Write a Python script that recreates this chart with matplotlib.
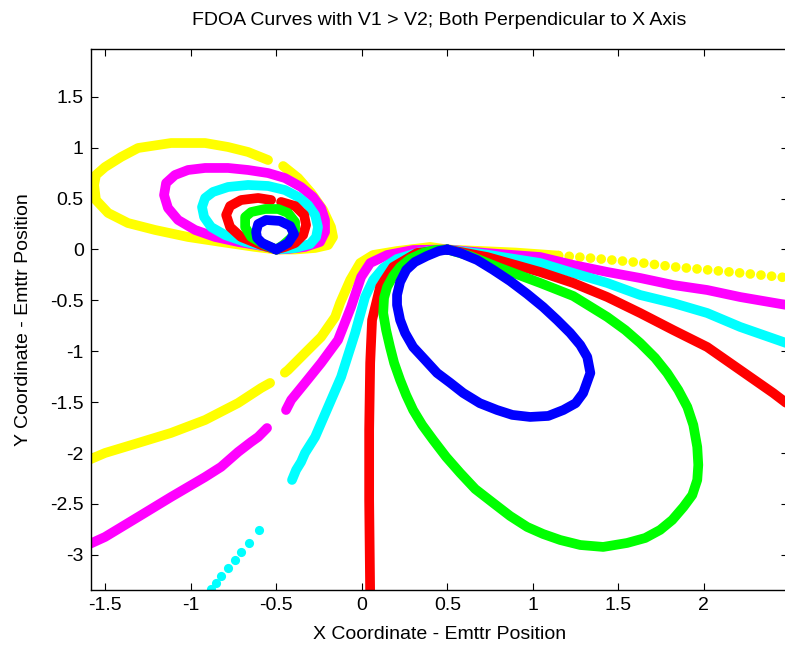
import matplotlib
matplotlib.use("Agg")
import matplotlib.pyplot as plt

# Curvas FDOA (coordenadas en unidades de los ejes)

# --- lazos alrededor del sensor 1 (-0.5, 0) ---
lazo_amarillo_a_x = [-0.50, -0.624, -0.823, -1.016, -1.209, -1.367, -1.483, -1.554, -1.565, -1.554, -1.501,
                     -1.407, -1.308, -1.115, -0.916, -0.782, -0.665, -0.548]
lazo_amarillo_a_y = [0.00, 0.025, 0.074, 0.123, 0.192, 0.260, 0.359, 0.486, 0.634, 0.732, 0.810,
                     0.909, 0.997, 1.046, 1.046, 1.007, 0.958, 0.879]
lazo_amarillo_b_x = [-0.460, -0.372, -0.296, -0.226, -0.180, -0.168, -0.197, -0.273, -0.390, -0.50]
lazo_amarillo_b_y = [0.820, 0.702, 0.555, 0.388, 0.221, 0.123, 0.044, 0.015, 0.00, 0.00]

lazo_magenta_x = [-0.50, -0.548, -0.723, -0.858, -0.975, -1.074, -1.133, -1.156, -1.144, -1.092, -1.016, -0.916,
                  -0.782, -0.665, -0.548, -0.449, -0.355, -0.285, -0.238, -0.215, -0.215, -0.244, -0.332, -0.431, -0.50]
lazo_magenta_y = [0.00, 0.025, 0.074, 0.123, 0.192, 0.290, 0.408, 0.535, 0.653, 0.732, 0.781, 0.801,
                  0.801, 0.781, 0.751, 0.702, 0.614, 0.516, 0.408, 0.290, 0.172, 0.074, 0.025, 0.005, 0.00]

lazo_cian_x = [-0.50, -0.548, -0.682, -0.799, -0.881, -0.922, -0.934, -0.916, -0.870, -0.782, -0.665, -0.548,
               -0.449, -0.372, -0.314, -0.273, -0.256, -0.267, -0.302, -0.390, -0.50]
lazo_cian_y = [0.00, 0.025, 0.074, 0.142, 0.221, 0.319, 0.417, 0.506, 0.565, 0.614, 0.634, 0.624,
               0.584, 0.516, 0.437, 0.339, 0.221, 0.123, 0.054, 0.015, 0.00]

lazo_rojo_a_x = [-0.50, -0.589, -0.706, -0.770, -0.793, -0.770, -0.706, -0.606, -0.530]
lazo_rojo_a_y = [0.00, 0.044, 0.123, 0.221, 0.339, 0.427, 0.486, 0.506, 0.486]
lazo_rojo_b_x = [-0.472, -0.390, -0.337, -0.326, -0.343, -0.390, -0.449, -0.50]
lazo_rojo_b_y = [0.467, 0.427, 0.339, 0.241, 0.142, 0.064, 0.025, 0.00]

lazo_verde_x = [-0.50, -0.565, -0.647, -0.682, -0.682, -0.647, -0.565, -0.489, -0.431, -0.390, -0.390, -0.413, -0.460, -0.50]
lazo_verde_y = [0.00, 0.044, 0.123, 0.221, 0.319, 0.368, 0.398, 0.398, 0.359, 0.270, 0.192, 0.113, 0.044, 0.00]

lazo_azul_x = [-0.50, -0.583, -0.612, -0.618, -0.606, -0.56, -0.478, -0.419, -0.396, -0.431, -0.50]
lazo_azul_y = [0.00, 0.064, 0.113, 0.172, 0.25, 0.29, 0.28, 0.231, 0.152, 0.064, 0.00]

# --- ramas que pasan por el sensor 2 (0.5, 0) ---
amarillo_der_x = [0.50, 0.63, 0.90, 1.15, 1.24, 1.44, 1.63, 1.82, 2.02, 2.21, 2.50]
amarillo_der_y = [0.00, -0.01, -0.03, -0.06, -0.07, -0.10, -0.13, -0.17, -0.20, -0.23, -0.28]
amarillo_izq_x = [0.50, 0.40, 0.206, 0.066, -0.010, -0.068, -0.127, -0.156, -0.238, -0.332, -0.431, -0.45]
amarillo_izq_y = [0.00, 0.025, -0.015, -0.054, -0.133, -0.300, -0.526, -0.663, -0.860, -1.017, -1.184, -1.21]
amarillo_bajo_x = [-0.536, -0.589, -0.723, -0.916, -1.115, -1.308, -1.501, -1.60]
amarillo_bajo_y = [-1.311, -1.361, -1.508, -1.675, -1.802, -1.901, -1.999, -2.07]

magenta_der_x = [0.50, 0.73, 1.043, 1.236, 1.435, 1.627, 1.820, 2.019, 2.212, 2.50]
magenta_der_y = [0.00, -0.035, -0.074, -0.152, -0.221, -0.280, -0.349, -0.398, -0.467, -0.55]
magenta_izq_x = [0.50, 0.300, 0.148, 0.049, -0.004, -0.063, -0.139, -0.238, -0.332, -0.413, -0.443]
magenta_izq_y = [0.00, -0.005, -0.054, -0.133, -0.270, -0.565, -0.889, -1.115, -1.311, -1.478, -1.577]
magenta_bajo_x = [-0.554, -0.606, -0.647, -0.723, -0.823, -0.916, -1.115, -1.308, -1.501, -1.60]
magenta_bajo_y = [-1.754, -1.842, -1.891, -1.989, -2.136, -2.235, -2.431, -2.628, -2.824, -2.90]

cian_der_x = [0.50, 0.73, 1.043, 1.236, 1.435, 1.627, 1.820, 2.019, 2.212, 2.50]
cian_der_y = [0.00, -0.05, -0.133, -0.231, -0.329, -0.447, -0.526, -0.624, -0.761, -0.93]
cian_izq_x = [0.50, 0.341, 0.206, 0.125, 0.066, 0.019, -0.039, -0.121, -0.197, -0.273, -0.332, -0.355, -0.384, -0.408]
cian_izq_y = [0.00, -0.025, -0.093, -0.182, -0.300, -0.467, -0.820, -1.252, -1.547, -1.842, -1.999, -2.087, -2.166, -2.264]
cian_puntos_x = [-0.600, -0.659, -0.706, -0.741, -0.782, -0.823, -0.852, -0.881]
cian_puntos_y = [-2.755, -2.883, -2.971, -3.050, -3.129, -3.207, -3.276, -3.335]

rojo_der_x = [0.50, 0.733, 1.043, 1.236, 1.435, 1.627, 1.820, 2.019, 2.212, 2.405, 2.505]
rojo_der_y = [0.00, -0.074, -0.221, -0.329, -0.467, -0.624, -0.791, -0.958, -1.184, -1.410, -1.538]
rojo_izq_x = [0.50, 0.323, 0.183, 0.107, 0.060, 0.049, 0.043, 0.043, 0.049]
rojo_izq_y = [0.00, -0.034, -0.172, -0.368, -0.693, -1.115, -1.773, -2.46, -3.40]

verde_x = [0.5, 0.633, 0.809, 1.043, 1.236, 1.435, 1.540, 1.627, 1.715, 1.785, 1.850, 1.903, 1.938, 1.961,
           1.967, 1.961, 1.932, 1.880, 1.815, 1.744, 1.657, 1.551, 1.411, 1.277, 1.160, 1.060, 0.967, 0.867,
           0.768, 0.663, 0.575, 0.493, 0.417, 0.353, 0.300, 0.259, 0.224, 0.189, 0.165, 0.142, 0.125, 0.130,
           0.148, 0.183, 0.224, 0.282, 0.358, 0.429, 0.5]
verde_y = [0.0, -0.064, -0.182, -0.329, -0.457, -0.663, -0.791, -0.918, -1.066, -1.213, -1.380, -1.547, -1.724, -1.940,
           -2.117, -2.264, -2.412, -2.530, -2.657, -2.755, -2.834, -2.883, -2.922, -2.903, -2.854, -2.795, -2.726, -2.618,
           -2.490, -2.353, -2.195, -2.038, -1.871, -1.724, -1.577, -1.429, -1.282, -1.115, -0.958, -0.791, -0.624, -0.476,
           -0.368, -0.260, -0.172, -0.093, -0.034, -0.005, 0.0]

azul_x = [0.50, 0.575, 0.674, 0.768, 0.867, 0.967, 1.06, 1.142, 1.218, 1.277, 1.318, 1.336, 1.294, 1.25, 1.178,
          1.09, 0.984, 0.88, 0.791, 0.69, 0.593, 0.517, 0.44, 0.37, 0.30, 0.253, 0.224, 0.206, 0.206, 0.224,
          0.26, 0.31, 0.38, 0.45, 0.50]
azul_y = [0.00, -0.034, -0.103, -0.20, -0.31, -0.437, -0.565, -0.693, -0.82, -0.938, -1.056, -1.213, -1.41, -1.51, -1.577,
          -1.635, -1.645, -1.625, -1.577, -1.51, -1.41, -1.31, -1.213, -1.085, -0.958, -0.82, -0.693, -0.545, -0.447, -0.319,
          -0.20, -0.123, -0.064, -0.015, 0.00]

ticks_x = [-1.5, -1, -0.5, 0, 0.5, 1, 1.5, 2]
ticks_y = [1.5, 1, 0.5, 0, -0.5, -1, -1.5, -2, -2.5, -3]

GROSOR = 7.0
PUNTO = 6.6


def trazo(ax, x, y, color, punteado=False):
    # linea gruesa con extremos redondos, como los puntos densos de MATLAB
    if punteado:
        ax.plot(x, y, color=color, lw=GROSOR, linestyle=(0, (0.001, 1.1)),
                dash_capstyle="round", solid_joinstyle="round")
    else:
        ax.plot(x, y, color=color, lw=GROSOR, solid_capstyle="round", solid_joinstyle="round")


def main():
    plt.rcParams["font.family"] = ["Liberation Sans", "DejaVu Sans"]
    fig = plt.figure(figsize=(7.85, 6.46), dpi=100)
    ax = fig.add_axes([0.1155, 0.0867, 0.888, 0.8375])

    # amarillo
    trazo(ax, lazo_amarillo_a_x, lazo_amarillo_a_y, "#ffff00")
    trazo(ax, lazo_amarillo_b_x, lazo_amarillo_b_y, "#ffff00")
    trazo(ax, amarillo_der_x[:4], amarillo_der_y[:4], "#ffff00")
    trazo(ax, amarillo_der_x[3:], amarillo_der_y[3:], "#ffff00", punteado=True)
    trazo(ax, amarillo_izq_x, amarillo_izq_y, "#ffff00")
    trazo(ax, amarillo_bajo_x, amarillo_bajo_y, "#ffff00")

    # magenta
    trazo(ax, lazo_magenta_x, lazo_magenta_y, "#ff00ff")
    trazo(ax, magenta_der_x, magenta_der_y, "#ff00ff")
    trazo(ax, magenta_izq_x, magenta_izq_y, "#ff00ff")
    trazo(ax, magenta_bajo_x, magenta_bajo_y, "#ff00ff")

    # cian
    trazo(ax, lazo_cian_x, lazo_cian_y, "#00ffff")
    trazo(ax, cian_der_x, cian_der_y, "#00ffff")
    trazo(ax, cian_izq_x, cian_izq_y, "#00ffff")
    ax.plot(cian_puntos_x, cian_puntos_y, "o", color="#00ffff", ms=PUNTO, mew=0)

    # rojo
    trazo(ax, lazo_rojo_a_x, lazo_rojo_a_y, "#ff0000")
    trazo(ax, lazo_rojo_b_x, lazo_rojo_b_y, "#ff0000")
    trazo(ax, rojo_der_x, rojo_der_y, "#ff0000")
    trazo(ax, rojo_izq_x, rojo_izq_y, "#ff0000")

    # verde
    trazo(ax, lazo_verde_x, lazo_verde_y, "#00ff00")
    trazo(ax, verde_x, verde_y, "#00ff00")

    # azul
    trazo(ax, lazo_azul_x, lazo_azul_y, "#0000ff")
    trazo(ax, azul_x, azul_y, "#0000ff")

    ax.set_xlim(-1.585, 2.49)
    ax.set_ylim(-3.345, 1.97)
    ax.set_xticks(ticks_x)
    ax.set_xticklabels(["-1.5", "-1", "-0.5", "0", "0.5", "1", "1.5", "2"])
    ax.set_yticks(ticks_y)
    ax.set_yticklabels(["1.5", "1", "0.5", "0", "-0.5", "-1", "-1.5", "-2", "-2.5", "-3"])
    ax.tick_params(direction="in", length=5, width=0.8, top=True, right=True,
                   labelsize=14, pad=5)
    for lado in ax.spines.values():
        lado.set_linewidth(1.0)

    ax.set_title("FDOA Curves with V1 > V2; Both Perpendicular to X Axis", fontsize=14, pad=17)
    ax.set_xlabel("X Coordinate - Emttr Position", fontsize=14, labelpad=9)
    ax.set_ylabel("Y Coordinate - Emttr Position", fontsize=14, labelpad=13)

    fig.savefig("out.png", dpi=100)


if __name__ == "__main__":
    main()
